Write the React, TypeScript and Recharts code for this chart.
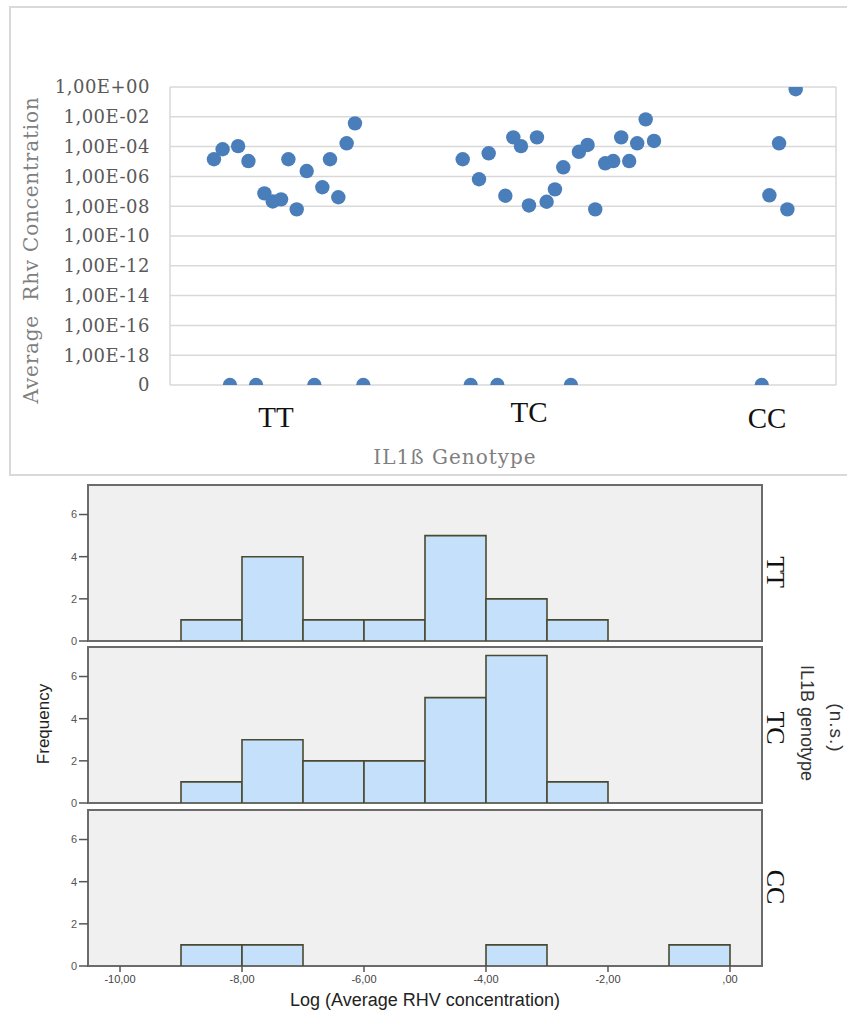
import React from 'react';
import {
  ScatterChart, Scatter, XAxis, YAxis, CartesianGrid, BarChart, Bar, ReferenceArea,
} from 'recharts';

// ---------- Scatter data (log10 of average Rhv concentration) ----------
const ttX = [0.264, 0.316, 0.409, 0.471, 0.567, 0.617, 0.667, 0.711, 0.761, 0.821, 0.915, 0.961, 1.011, 1.061, 1.111];
const ttLog = [-4.85, -4.18, -3.97, -4.97, -7.14, -7.68, -7.54, -4.85, -8.21, -5.64, -6.73, -4.85, -7.4, -3.78, -2.44];
const ttZeroX = [0.36, 0.517, 0.867, 1.161];

const tcX = [1.758, 1.856, 1.914, 2.014, 2.062, 2.108, 2.156, 2.204, 2.262, 2.312, 2.362, 2.456, 2.508, 2.554, 2.614, 2.662, 2.71, 2.758, 2.806, 2.857, 2.907];
const tcLog = [-4.85, -6.19, -4.45, -7.3, -3.38, -3.97, -7.95, -3.38, -7.7, -6.87, -5.39, -4.35, -3.89, -8.21, -5.12, -4.97, -3.38, -4.97, -3.78, -2.17, -3.62];
const tcZeroX = [1.806, 1.966, 2.408];

const ccX = [3.758, 3.658, 3.6, 3.708];
const ccLog = [-0.15, -3.78, -7.27, -8.21];
const ccZeroX = [3.554];

const zeroLevel = -20; // "0" concentration row
const yTickValues = [-20, -18, -16, -14, -12, -10, -8, -6, -4, -2, 0];
const yTickLabels = ['0', '1,00E-18', '1,00E-16', '1,00E-14', '1,00E-12', '1,00E-10', '1,00E-08', '1,00E-06', '1,00E-04', '1,00E-02', '1,00E+00'];
const gridXTicks = [0, 1, 2, 3, 4];
const catLabels = ['TT', 'TC', 'CC'];
const catPos = [0.637, 2.156, 3.586];

// ---------- Histogram data (bins of 1 log unit from -10 to 0) ----------
const binStarts = [-10, -9, -8, -7, -6, -5, -4, -3, -2, -1];
const ttCounts = [0, 1, 4, 1, 1, 5, 2, 1, 0, 0];
const tcCounts = [0, 1, 3, 2, 2, 5, 7, 1, 0, 0];
const ccCounts = [0, 1, 1, 0, 0, 0, 1, 0, 0, 1];
const histXTicks = [-10, -8, -6, -4, -2, 0];
const histXTickLabels = ['-10,00', '-8,00', '-6,00', '-4,00', '-2,00', ',00'];
const histYTicks = [0, 2, 4, 6];
const panelNames = ['TT', 'TC', 'CC'];

const mkPoints = (xs: number[], logs: number[], zeros: number[]) => [
  ...xs.map((x, i) => ({ x, y: logs[i] })),
  ...zeros.map((x) => ({ x, y: zeroLevel })),
];

const DOT = '#4a7ebb';
const Dot = (p: any) => <circle cx={p.cx} cy={p.cy} r={7.2} fill={DOT} />;

const catDy = [34, 29, 35];
const CatTick = (p: any) => {
  let idx = catPos.indexOf(p.payload.value);
  if (idx < 0) idx = p.index ?? 0;
  return (
    <text x={p.x} y={p.y} dy={catDy[idx]} textAnchor="middle" fontFamily="Liberation Serif" fontSize={29} fill="#111">
      {catLabels[idx]}
    </text>
  );
};

const X_MIN = -10.525;
const X_MAX = 0.525;
const Y_MAX = 7.4;

function HistPanel({ counts, top, last }: { counts: number[]; top: number; last: boolean }) {
  const data = binStarts.map((b, i) => ({ bin: String(b), lo: b, count: counts[i] }));
  const bottom = last ? 30 : 6;
  const h = 10 + 156 + bottom;
  return (
    <div style={{ position: 'absolute', left: 0, top: top - 10 }}>
      <BarChart width={847} height={h} data={data} margin={{ top: 10, right: 85, left: 28, bottom: last ? 0 : 6 }} barCategoryGap={0} barGap={0}>
        <CartesianGrid horizontal={false} vertical={false} fill="#f0f0f0" xAxisId="num" />
        <XAxis xAxisId="bins" dataKey="bin" type="category" hide height={0} padding={{ left: 32, right: 32 }} />
        <XAxis
          xAxisId="num"
          dataKey="lo"
          type="number"
          domain={[X_MIN, X_MAX]}
          ticks={histXTicks}
          allowDataOverflow
          height={last ? 30 : 0}
          tick={last ? { fontSize: 11, fill: '#444', fontFamily: 'Liberation Sans' } : false}
          tickFormatter={(v: number) => histXTickLabels[histXTicks.indexOf(v)]}
          tickLine={last ? { stroke: '#555', strokeWidth: 1.5 } : false}
          tickSize={6}
          tickMargin={3}
          axisLine={false}
          interval={0}
        />
        <YAxis
          type="number"
          domain={[0, Y_MAX]}
          ticks={histYTicks}
          width={60}
          allowDataOverflow
          tick={{ fontSize: 11, fill: '#555', fontFamily: 'Liberation Sans' }}
          tickLine={{ stroke: '#555', strokeWidth: 1.5 }}
          tickSize={9}
          tickMargin={2}
          axisLine={false}
          interval={0}
        />
        <Bar xAxisId="bins" dataKey="count" fill="#c4e0fb" stroke="#4a4a30" strokeWidth={1.6} isAnimationActive={false} />
        <ReferenceArea xAxisId="num" x1={X_MIN} x2={X_MAX} y1={0} y2={Y_MAX} fill="none" stroke="#6b6b6b" strokeWidth={2} ifOverflow="visible" />
      </BarChart>
    </div>
  );
}

export default function App() {
  const tt = mkPoints(ttX, ttLog, ttZeroX);
  const tc = mkPoints(tcX, tcLog, tcZeroX);
  const cc = mkPoints(ccX, ccLog, ccZeroX);
  const panelTops = [485, 647, 810];
  const panelLabelY = [572, 728, 887];
  const allCounts = [ttCounts, tcCounts, ccCounts];
  return (
    <div style={{ position: 'absolute', left: 0, top: 0, width: 847, height: 1025, background: '#fff', overflow: 'hidden' }}>
      <div style={{ position: 'absolute', left: 0, top: 0 }}>
        <ScatterChart width={847} height={480} margin={{ top: 87, right: 11, bottom: 35, left: 10 }}>
          <CartesianGrid xAxisId="grid" stroke="#d9d9d9" strokeWidth={1.5} />
          <XAxis xAxisId="grid" dataKey="x" type="number" domain={[0, 4]} ticks={gridXTicks} height={0} tick={false} tickLine={false} axisLine={false} allowDataOverflow />
          <XAxis xAxisId="lab" dataKey="x" type="number" domain={[0, 4]} ticks={catPos} height={60} tick={<CatTick />} tickLine={false} axisLine={false} allowDataOverflow interval={0} />
          <YAxis
            dataKey="y"
            type="number"
            domain={[-20, 0]}
            ticks={yTickValues}
            width={160}
            tickSize={6}
            tickMargin={14}
            tickLine={false}
            axisLine={false}
            tick={{ fontSize: 18, fill: '#595959', fontFamily: 'DejaVu Serif', letterSpacing: 0.5 }}
            tickFormatter={(v: number) => yTickLabels[yTickValues.indexOf(v)]}
            allowDataOverflow
            interval={0}
          />
          <Scatter xAxisId="grid" data={tt} shape={Dot} isAnimationActive={false} />
          <Scatter xAxisId="grid" data={tc} shape={Dot} isAnimationActive={false} />
          <Scatter xAxisId="grid" data={cc} shape={Dot} isAnimationActive={false} />
        </ScatterChart>
      </div>

      {allCounts.map((c, i) => (
        <HistPanel key={i} counts={c} top={panelTops[i]} last={i === 2} />
      ))}

      <svg width={847} height={1025} style={{ position: 'absolute', left: 0, top: 0, pointerEvents: 'none' }}>
        <rect x={10} y={7} width={850} height={468} fill="none" stroke="#d9d9d9" strokeWidth={2} />
        <text transform="translate(38,250) rotate(-90)" textAnchor="middle" fontFamily="DejaVu Serif" fontSize={20} letterSpacing={0.8} fill="#7f7f7f" style={{ whiteSpace: 'pre' }}>
          {'Average  Rhv Concentration'}
        </text>
        <text x={455} y={464} textAnchor="middle" fontFamily="DejaVu Serif" fontSize={20} letterSpacing={1} fill="#7f7f7f">
          IL1ß Genotype
        </text>
        {panelNames.map((n, i) => (
          <text key={n} transform={`translate(767,${panelLabelY[i]}) rotate(90)`} textAnchor="middle" fontFamily="Liberation Serif" fontSize={26} fill="#111">
            {n}
          </text>
        ))}
        <text transform="translate(801,723) rotate(90)" textAnchor="middle" fontFamily="Liberation Sans" fontSize={18} fill="#333">
          IL1B genotype
        </text>
        <text transform="translate(830,728) rotate(90)" textAnchor="middle" fontFamily="Liberation Sans" fontSize={19} letterSpacing={1} fill="#333">
          (n.s.)
        </text>
        <text transform="translate(49,724) rotate(-90)" textAnchor="middle" fontFamily="Liberation Sans" fontSize={17} fill="#222">
          Frequency
        </text>
        <text x={425} y={1006} textAnchor="middle" fontFamily="Liberation Sans" fontSize={18} fill="#222">
          Log (Average RHV concentration)
        </text>
      </svg>
    </div>
  );
}
